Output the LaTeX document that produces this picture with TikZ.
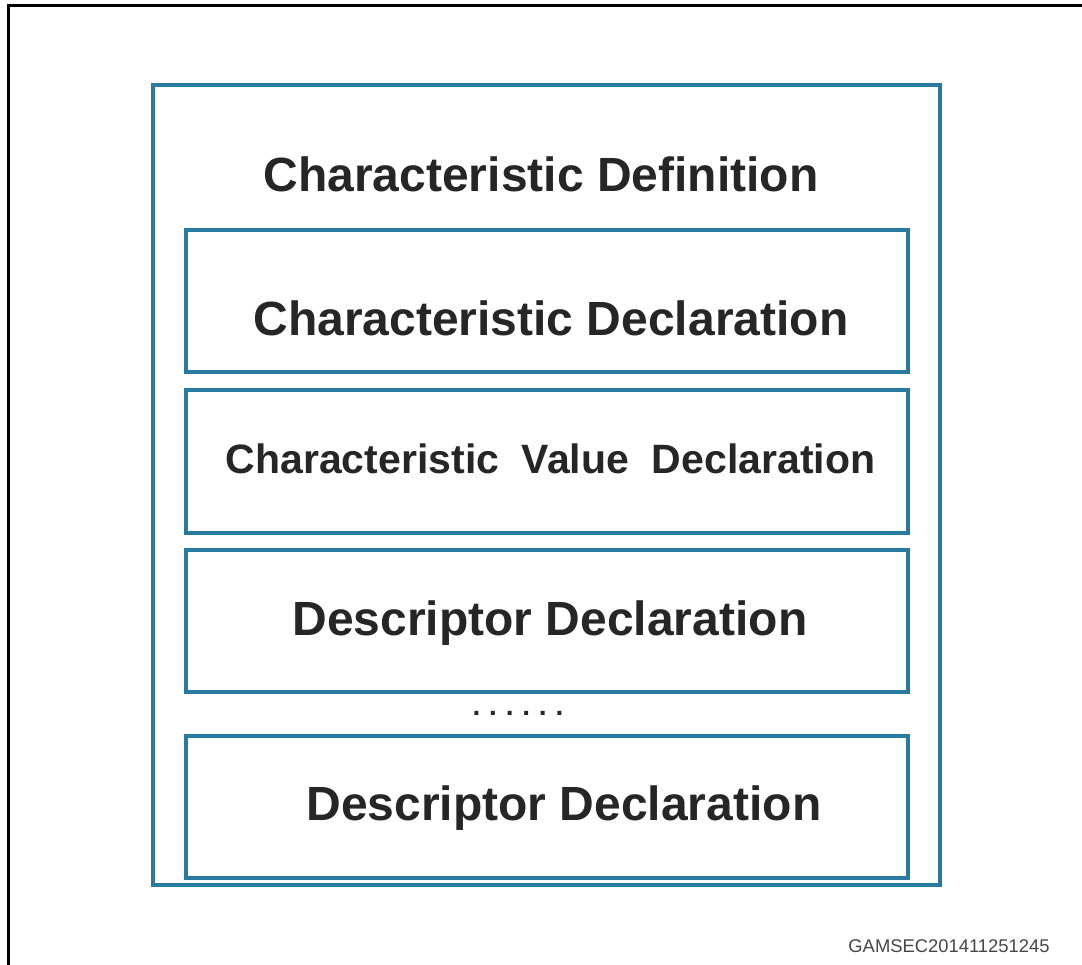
\documentclass[tikz,border=0pt]{standalone}
\usepackage{fontspec}
\setmainfont{Liberation Sans}
\definecolor{boxblue}{RGB}{40,122,160}
\definecolor{txt}{RGB}{38,38,38}
\begin{document}
\begin{tikzpicture}[x=1pt,y=-1pt,
  outerbox/.style={draw=boxblue,line width=4.5pt,inner sep=0pt},
  innerbox/.style={draw=boxblue,line width=4pt,minimum width=722pt,minimum height=142pt,inner sep=0pt},
  bigtext/.style={font=\fontsize{48}{52}\selectfont\bfseries,text=txt,inner sep=0pt},
  midtext/.style={font=\fontsize{41}{46}\selectfont\bfseries,text=txt,inner sep=0pt}]
\useasboundingbox (0,0) rectangle (1082,965);
\fill[white] (0,0) rectangle (1082,965);
% black frame
\coordinate (fbl) at (8,965);
\coordinate (ftl) at (8,6);
\coordinate (ftr) at (1082,6);
\draw[line width=3pt] (fbl) -- (ftl) -- (ftr);
% outer box
\node[outerbox,minimum width=787pt,minimum height=800pt] (outer) at (546.5,485) {};
\node[bigtext] (title) at (541,174) {Characteristic Definition};
% inner boxes
\node[innerbox] (b1) at (547,301) {};
\node[bigtext] (t1) at (551,318) {Characteristic Declaration};
\node[innerbox] (b2) at (547,461.5) {};
\node[midtext] (t2) at (550.5,459) {Characteristic\ \ Value\ \ Declaration};
\node[innerbox] (b3) at (547,621) {};
\node[bigtext] (t3) at (550,623) {Descriptor Declaration};
\node[font=\fontsize{28}{28}\selectfont\bfseries,text=txt,inner sep=0pt,anchor=base] (dots) at (518,715)
  {.\hspace{8.8pt}.\hspace{8.8pt}.\hspace{8.8pt}.\hspace{8.8pt}.\hspace{8.8pt}.};
\node[innerbox] (b4) at (547,806.5) {};
\node[bigtext] (t4) at (564,808) {Descriptor Declaration};
\node[font=\fontsize{18.4}{20}\selectfont,text=txt!85,inner sep=0pt] (code) at (949,946) {GAMSEC201411251245};
\end{tikzpicture}
\end{document}
